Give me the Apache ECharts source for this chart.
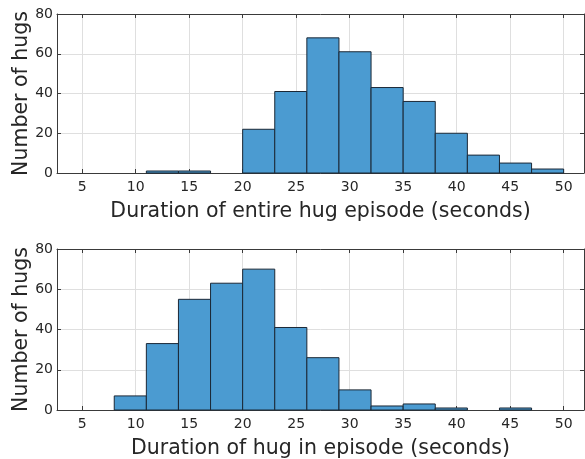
<!DOCTYPE html>
<html>
<head>
<meta charset="utf-8">
<script src="https://cdn.jsdelivr.net/npm/echarts@6/dist/echarts.min.js"></script>
<style>html,body{margin:0;padding:0;background:#fff}#c{width:585px;height:459px}</style>
</head>
<body>
<div id="c"></div>
<script>
// Data
const binWidth = 3;
const topBinLeft = [11, 14, 17, 20, 23, 26, 29, 32, 35, 38, 41, 44, 47];
const topCounts = [1, 1, 0, 22, 41, 68, 61, 43, 36, 20, 9, 5, 2];
const bottomBinLeft = [8, 11, 14, 17, 20, 23, 26, 29, 32, 35, 38, 41, 44];
const bottomCounts = [7, 33, 55, 63, 70, 41, 26, 10, 2, 3, 1, 0, 1];
const xTicks = [5, 10, 15, 20, 25, 30, 35, 40, 45, 50];
const yTicks = [0, 20, 40, 60, 80];
const topXTitle = 'Duration of entire hug episode (seconds)';
const bottomXTitle = 'Duration of hug in episode (seconds)';
const yTitle = 'Number of hugs';

const FONT = 'DejaVu Sans';
const TXT = '#262626';
const AX = '#3a3a3a';
const GRID = '#dfdfdf';
const XMIN = 2.65, XMAX = 51.9;

function buildData(lefts, counts) {
  return lefts.map((l, i) => [l, l + binWidth, counts[i]]);
}

function xAxes(gi, title) {
  return [
    {
      type: 'value', gridIndex: gi, position: 'bottom', min: XMIN, max: XMAX,
      name: title, nameLocation: 'middle', nameGap: 28, nameMoveOverlap: false,
      nameTextStyle: { fontFamily: FONT, fontSize: 20.5, color: TXT },
      axisLine: { show: true, onZero: false, lineStyle: { color: AX, width: 1 } },
      axisTick: { show: true, inside: true, length: 4, customValues: xTicks, lineStyle: { color: AX } },
      axisLabel: { customValues: xTicks, margin: 7, fontFamily: FONT, fontSize: 14, color: TXT },
      splitLine: { show: true, lineStyle: { color: GRID, width: 1 } }
    },
    {
      type: 'value', gridIndex: gi, position: 'top', min: XMIN, max: XMAX,
      axisLine: { show: true, onZero: false, lineStyle: { color: AX, width: 1 } },
      axisTick: { show: true, inside: true, length: 4, customValues: xTicks, lineStyle: { color: AX } },
      axisLabel: { show: false, customValues: xTicks },
      splitLine: { show: false }
    }
  ];
}

function yAxes(gi) {
  return [
    {
      type: 'value', gridIndex: gi, position: 'left', min: 0, max: 80, interval: 20,
      name: yTitle, nameLocation: 'middle', nameGap: 25, nameRotate: 90, nameMoveOverlap: false,
      nameTextStyle: { fontFamily: FONT, fontSize: 20.5, color: TXT },
      axisLine: { show: true, onZero: false, lineStyle: { color: AX, width: 1 } },
      axisTick: { show: true, inside: true, length: 4, lineStyle: { color: AX } },
      axisLabel: { margin: 4, fontFamily: FONT, fontSize: 14, color: TXT },
      splitLine: { show: true, lineStyle: { color: GRID, width: 1 } }
    },
    {
      type: 'value', gridIndex: gi, position: 'right', min: 0, max: 80, interval: 20,
      axisLine: { show: true, onZero: false, lineStyle: { color: AX, width: 1 } },
      axisTick: { show: true, inside: true, length: 4, lineStyle: { color: AX } },
      axisLabel: { show: false },
      splitLine: { show: false }
    }
  ];
}

function renderBar(params, api) {
  const x0 = api.value(0), x1 = api.value(1), v = api.value(2);
  if (!v) return null;
  const p0 = api.coord([x0, v]);
  const p1 = api.coord([x1, 0]);
  return {
    type: 'rect',
    shape: { x: p0[0], y: p0[1], width: p1[0] - p0[0], height: p1[1] - p0[1] },
    style: { fill: '#4b9bd1', stroke: '#1b2836', lineWidth: 1 }
  };
}

const chart = echarts.init(document.getElementById('c'), null, { renderer: 'canvas' });
chart.setOption({
  animation: false,
  backgroundColor: '#ffffff',
  grid: [
    { left: 57, top: 14, width: 527, height: 159, containLabel: false, outerBoundsMode: 'none' },
    { left: 57, top: 249, width: 527, height: 161, containLabel: false, outerBoundsMode: 'none' }
  ],
  xAxis: [].concat(xAxes(0, topXTitle), xAxes(1, bottomXTitle)),
  yAxis: [].concat(yAxes(0), yAxes(1)),
  series: [
    { type: 'custom', xAxisIndex: 0, yAxisIndex: 0, renderItem: renderBar,
      encode: { x: [0, 1], y: 2 }, data: buildData(topBinLeft, topCounts) },
    { type: 'custom', xAxisIndex: 2, yAxisIndex: 2, renderItem: renderBar,
      encode: { x: [0, 1], y: 2 }, data: buildData(bottomBinLeft, bottomCounts) }
  ]
});
</script>
</body>
</html>
